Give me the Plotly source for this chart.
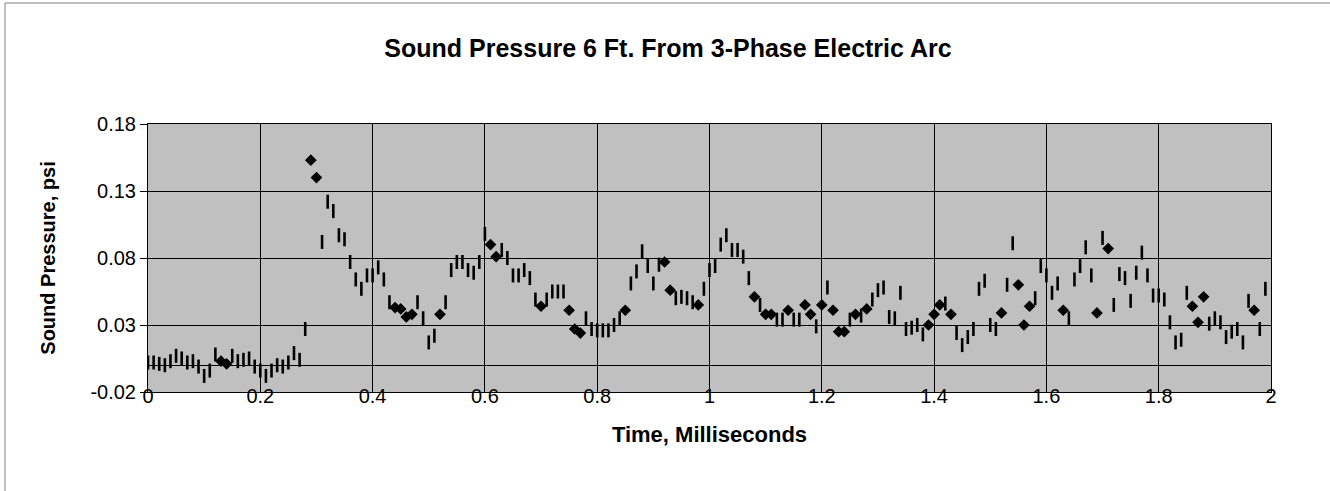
import plotly.graph_objects as go

# ---- data ----
dash_time = [0.00, 0.01, 0.02, 0.03, 0.04, 0.05, 0.06, 0.07, 0.08, 0.09, 0.10, 0.11, 0.12,
             0.15, 0.16, 0.17, 0.18, 0.19, 0.20, 0.21, 0.22, 0.23, 0.24, 0.25, 0.26, 0.27, 0.28,
             0.31, 0.32, 0.33, 0.34, 0.35, 0.36, 0.37, 0.38, 0.39, 0.40, 0.41, 0.42, 0.43,
             0.48, 0.49, 0.50, 0.51, 0.53, 0.54, 0.55, 0.56, 0.57, 0.58, 0.59, 0.60,
             0.63, 0.64, 0.65, 0.66, 0.67, 0.68, 0.69, 0.71, 0.72, 0.73, 0.74,
             0.78, 0.79, 0.80, 0.81, 0.82, 0.83, 0.84, 0.86, 0.87, 0.88, 0.89, 0.90, 0.91,
             0.94, 0.95, 0.96, 0.97, 0.99, 1.00, 1.01, 1.02, 1.03, 1.04, 1.05, 1.06, 1.07,
             1.09, 1.12, 1.13, 1.15, 1.16, 1.19, 1.21, 1.25, 1.27, 1.29, 1.30, 1.31, 1.32,
             1.33, 1.34, 1.35, 1.36, 1.37, 1.38, 1.42, 1.44, 1.45, 1.46, 1.47, 1.48, 1.49,
             1.50, 1.51, 1.53, 1.54, 1.58, 1.59, 1.60, 1.61, 1.62, 1.64, 1.65, 1.66, 1.67,
             1.68, 1.70, 1.72, 1.73, 1.74, 1.75, 1.76, 1.77, 1.78, 1.79, 1.80, 1.81, 1.82,
             1.83, 1.84, 1.85, 1.89, 1.90, 1.91, 1.92, 1.93, 1.94, 1.95, 1.96, 1.98, 1.99]
dash_psi = [0.002, 0.002, 0.001, 0.000, 0.003, 0.007, 0.005, 0.002, 0.003, -0.001, -0.008, -0.004, 0.008,
            0.007, 0.003, 0.004, 0.005, -0.001, -0.004, -0.008, -0.004, 0.000, -0.001, 0.002, 0.009, 0.004, 0.027,
            0.092, 0.122, 0.115, 0.097, 0.094, 0.077, 0.064, 0.057, 0.067, 0.067, 0.073, 0.064, 0.047,
            0.047, 0.035, 0.017, 0.022, 0.047, 0.071, 0.077, 0.077, 0.071, 0.069, 0.077, 0.098,
            0.086, 0.080, 0.067, 0.067, 0.071, 0.065, 0.049, 0.049, 0.055, 0.055, 0.055,
            0.035, 0.027, 0.026, 0.026, 0.026, 0.030, 0.035, 0.061, 0.070, 0.085, 0.074, 0.061, 0.075,
            0.050, 0.051, 0.050, 0.047, 0.057, 0.071, 0.074, 0.090, 0.097, 0.086, 0.086, 0.081, 0.065,
            0.045, 0.034, 0.034, 0.034, 0.034, 0.029, 0.058, 0.034, 0.037, 0.049, 0.056, 0.058, 0.036,
            0.035, 0.054, 0.027, 0.028, 0.030, 0.023, 0.046, 0.024, 0.015, 0.021, 0.027, 0.057, 0.063,
            0.030, 0.027, 0.060, 0.091, 0.050, 0.074, 0.067, 0.054, 0.061, 0.035, 0.064, 0.074, 0.088,
            0.067, 0.095, 0.045, 0.068, 0.065, 0.048, 0.069, 0.084, 0.067, 0.052, 0.052, 0.049, 0.032,
            0.017, 0.019, 0.054, 0.031, 0.035, 0.032, 0.021, 0.025, 0.027, 0.017, 0.048, 0.027, 0.057]

diamond_time = [0.13, 0.14, 0.29, 0.30, 0.44, 0.45, 0.46, 0.47, 0.52, 0.61, 0.62, 0.70, 0.75,
                0.76, 0.77, 0.85, 0.92, 0.93, 0.98, 1.08, 1.10, 1.11, 1.14, 1.17, 1.18, 1.20,
                1.22, 1.23, 1.24, 1.26, 1.28, 1.39, 1.40, 1.41, 1.43, 1.52, 1.55, 1.56, 1.57,
                1.63, 1.69, 1.71, 1.86, 1.87, 1.88, 1.97]
diamond_psi = [0.003, 0.001, 0.153, 0.140, 0.043, 0.042, 0.036, 0.038, 0.038, 0.090, 0.081, 0.044, 0.041,
               0.027, 0.024, 0.041, 0.077, 0.056, 0.045, 0.051, 0.038, 0.038, 0.041, 0.045, 0.038, 0.045,
               0.041, 0.025, 0.025, 0.038, 0.042, 0.030, 0.038, 0.045, 0.038, 0.039, 0.060, 0.030, 0.044,
               0.041, 0.039, 0.087, 0.044, 0.032, 0.051, 0.041]

x_ticks = [0, 0.2, 0.4, 0.6, 0.8, 1.0, 1.2, 1.4, 1.6, 1.8, 2.0]
x_tick_labels = ["0", "0.2", "0.4", "0.6", "0.8", "1", "1.2", "1.4", "1.6", "1.8", "2"]
y_ticks = [-0.02, 0.03, 0.08, 0.13, 0.18]
y_tick_labels = ["-0.02", "0.03", "0.08", "0.13", "0.18"]

title_text = "Sound Pressure 6 Ft. From 3-Phase Electric Arc"
x_title = "Time, Milliseconds"
y_title = "Sound Pressure, psi"

# ---- layout geometry (pixels) ----
W, H = 1330, 491
L, R, T, B = 148, 59, 124, 99
pw, ph = W - L - R, H - T - B
FONT = "Liberation Sans, Arial, Helvetica, sans-serif"

fig = go.Figure()
fig.add_trace(go.Scatter(
    x=dash_time, y=dash_psi, mode="markers", name="measured",
    marker=dict(symbol="line-ns", size=10, color="black",
                line=dict(color="black", width=2.6)),
    showlegend=False, hoverinfo="x+y"))
fig.add_trace(go.Scatter(
    x=diamond_time, y=diamond_psi, mode="markers", name="measured (diamond)",
    marker=dict(symbol="diamond", size=9, color="black", line=dict(width=0)),
    showlegend=False, hoverinfo="x+y"))

# outer chart border (right/bottom edges fall outside the window)
def px_x(p):
    return (p - L) / pw
def px_y(p):
    return (T + ph - p) / ph

fig.add_shape(type="rect", xref="paper", yref="paper",
              x0=px_x(5), x1=px_x(W + 6), y0=px_y(H + 6), y1=px_y(3),
              line=dict(color="#808080", width=1), fillcolor="rgba(0,0,0,0)", layer="below")

fig.update_layout(
    width=W, height=H,
    margin=dict(l=L, r=R, t=T, b=B, pad=0),
    paper_bgcolor="white", plot_bgcolor="#C0C0C0",
    font=dict(family=FONT, color="black", size=20),
    title=dict(text=title_text, x=668 / W, xanchor="center",
               y=1 - 48.5 / H, yanchor="middle", yref="container", xref="container",
               font=dict(family=FONT, size=25, weight="bold", color="black")),
    xaxis=dict(range=[0, 2], tickvals=x_ticks, ticktext=x_tick_labels,
               showgrid=True, gridcolor="black", gridwidth=1,
               showline=True, linecolor="black", linewidth=1, mirror=True,
               ticks="", zeroline=False,
               tickfont=dict(family=FONT, size=20, color="black"),
               ticklabelstandoff=-14,
               title=dict(text=x_title, standoff=20,
                          font=dict(family=FONT, size=22, weight="bold", color="black")),
               automargin=False),
    yaxis=dict(range=[-0.02, 0.18], tickvals=y_ticks, ticktext=y_tick_labels,
               showgrid=True, gridcolor="black", gridwidth=1,
               showline=True, linecolor="black", linewidth=1, mirror=True,
               ticks="outside", ticklen=7, tickcolor="black", tickwidth=1,
               zeroline=True, zerolinecolor="black", zerolinewidth=1,
               tickfont=dict(family=FONT, size=20, color="black"),
               title=dict(text=y_title, standoff=29,
                          font=dict(family=FONT, size=20, weight="bold", color="black")),
               automargin=False),
)

fig.write_html("out.html", config={"displayModeBar": False},
               post_script="document.body.style.margin='0';")
